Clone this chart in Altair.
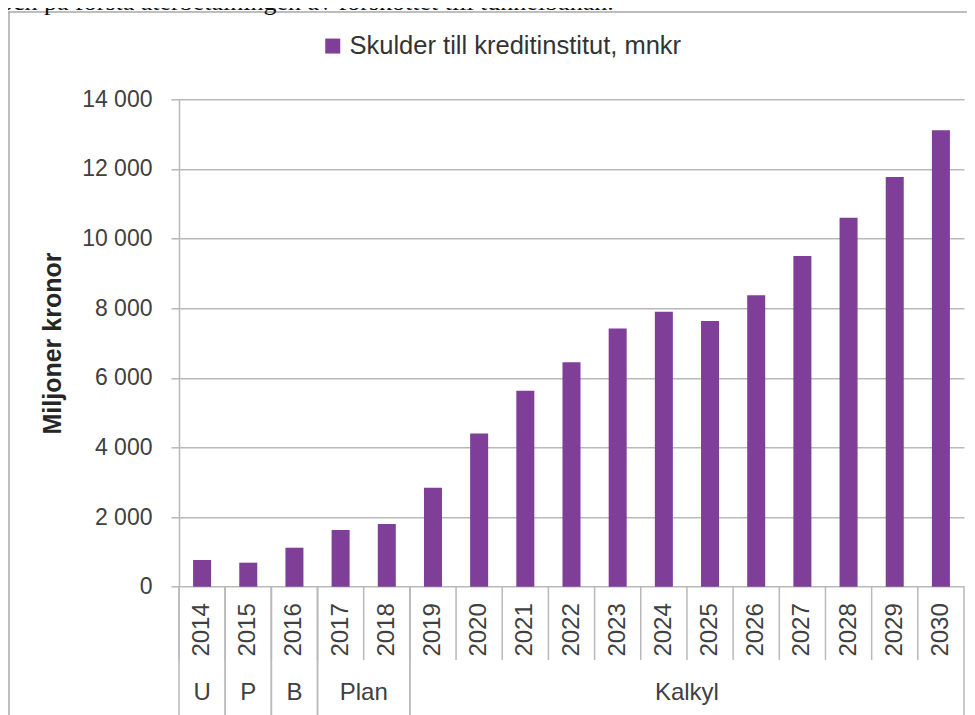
import altair as alt
import pandas as pd

# ---------------- data ----------------
years = ["2014", "2015", "2016", "2017", "2018", "2019", "2020", "2021", "2022",
         "2023", "2024", "2025", "2026", "2027", "2028", "2029", "2030"]
values = [770, 690, 1120, 1630, 1800, 2840, 4400, 5630, 6450,
          7420, 7900, 7630, 8370, 9500, 10600, 11770, 13110]
series_name = "Skulder till kreditinstitut, mnkr"
groups = ["U", "P", "B", "Plan", "Kalkyl"]
group_first = ["2014", "2015", "2016", "2017", "2019"]
group_last = ["2014", "2015", "2016", "2018", "2030"]
y_ticks = [0, 2000, 4000, 6000, 8000, 10000, 12000, 14000]
y_title = "Miljoner kronor"
top_text = "och på första återbetalningen av förskottet till tunnelbanan."

# ---------------- style ----------------
PURPLE = "#7f3f98"
GRID = "#b9b9b9"
FRAME = "#a8a8a8"
TEXT = "#404040"
FONT = "Liberation Sans"
W = 785
H = 487.4

df = pd.DataFrame({"year": years, "value": values, "serie": series_name})

xscale = alt.Scale(domain=years, paddingInner=0, paddingOuter=0)
yscale = alt.Scale(domain=[0, 14000], nice=False)

bars = alt.Chart(df).mark_bar(width=alt.RelativeBandSize(0.39)).encode(
    x=alt.X("year:N", scale=xscale, sort=years, title=None,
            axis=alt.Axis(labelAngle=-90, labelFontSize=24, labelColor=TEXT,
                          labelFont=FONT, labelPadding=16, ticks=False,
                          tickSize=0, domain=False, grid=False,
                          labelOverlap=False)),
    y=alt.Y("value:Q", scale=yscale, title=y_title,
            axis=alt.Axis(values=y_ticks,
                          labelExpr="replace(format(datum.value, ','), ',', ' ')",
                          labelFontSize=23, labelColor=TEXT, labelFont=FONT,
                          labelPadding=19, tickSize=8, tickColor=GRID,
                          tickWidth=1.5, domain=True, domainColor=GRID,
                          domainWidth=1.5, grid=True, gridColor=GRID,
                          gridWidth=1.5, titleFont=FONT, titleFontSize=25,
                          titleFontWeight="bold", titleColor="#262626",
                          titleAngle=270, titleX=-126.5, titleY=H / 2,
                          titleAlign="center", titleBaseline="middle")),
    color=alt.Color("serie:N",
                    scale=alt.Scale(domain=[series_name], range=[PURPLE]),
                    legend=alt.Legend(title=None, orient="none", legendX=141,
                                      legendY=-66, direction="horizontal",
                                      symbolType="square", symbolSize=225,
                                      symbolStrokeWidth=0, labelFontSize=25.5,
                                      labelFont=FONT, labelColor="#333333",
                                      labelOffset=4, padding=0,
                                      labelLimit=600)),
)

# short separators between years (below the axis)
short_sep = alt.Chart(df).mark_rule(color=GRID, strokeWidth=1.5).encode(
    x=alt.X("year:N", scale=xscale, sort=years, title=None, bandPosition=0),
    y=alt.value(H),
    y2=alt.value(H + 73.3),
)

gdf = pd.DataFrame({"group": groups, "first": group_first, "last": group_last})
long_sep_start = alt.Chart(gdf).mark_rule(color=GRID, strokeWidth=1.5).encode(
    x=alt.X("first:N", scale=xscale, sort=years, title=None, bandPosition=0),
    y=alt.value(H),
    y2=alt.value(H + 140),
)
long_sep_end = alt.Chart(gdf).mark_rule(color=GRID, strokeWidth=1.5).encode(
    x=alt.X("last:N", scale=xscale, sort=years, title=None, bandPosition=1),
    y=alt.value(H),
    y2=alt.value(H + 140),
)

# group label anchors: centre of each group of years
anchors, bands = [], []
for f, l in zip(group_first, group_last):
    m2 = years.index(f) + years.index(l) + 1
    anchors.append(years[m2 // 2])
    bands.append(0.5 if m2 % 2 else 0.0)
gdf["anchor"] = anchors
gdf["band"] = bands

group_layers = []
for b in sorted(set(bands)):
    sub = gdf[gdf["band"] == b]
    group_layers.append(
        alt.Chart(sub).mark_text(fontSize=24, font=FONT, color=TEXT,
                                 baseline="middle", align="center").encode(
            x=alt.X("anchor:N", scale=xscale, sort=years, title=None,
                    bandPosition=b),
            y=alt.value(H + 106),
            text="group:N",
        )
    )

one = alt.Data(values=[{"k": 1}])
frame_top = alt.Chart(one).mark_rule(color=FRAME, strokeWidth=1.5).encode(
    x=alt.value(-175), x2=alt.value(W + 30), y=alt.value(-87.3))
frame_left = alt.Chart(one).mark_rule(color=FRAME, strokeWidth=1.5).encode(
    x=alt.value(-170), y=alt.value(-87.3), y2=alt.value(H + 140))

cut_text = alt.Chart(alt.Data(values=[{"t": top_text}])).mark_text(
    font="Liberation Serif", fontSize=26, color="#111111", align="left",
    baseline="alphabetic").encode(
    x=alt.value(-179), y=alt.value(-89.3), text="t:N")

chart = alt.layer(
    frame_top, frame_left, cut_text, short_sep, long_sep_start, long_sep_end,
    bars, *group_layers
).properties(
    width=W, height=H,
    autosize=alt.AutoSizeParams(type="none"),
    padding={"left": 171, "top": 91.3, "right": 3, "bottom": 128.3},
    background="white",
).configure_view(stroke=None)

chart.save("out.html", embed_options={"renderer": "svg", "actions": False})
